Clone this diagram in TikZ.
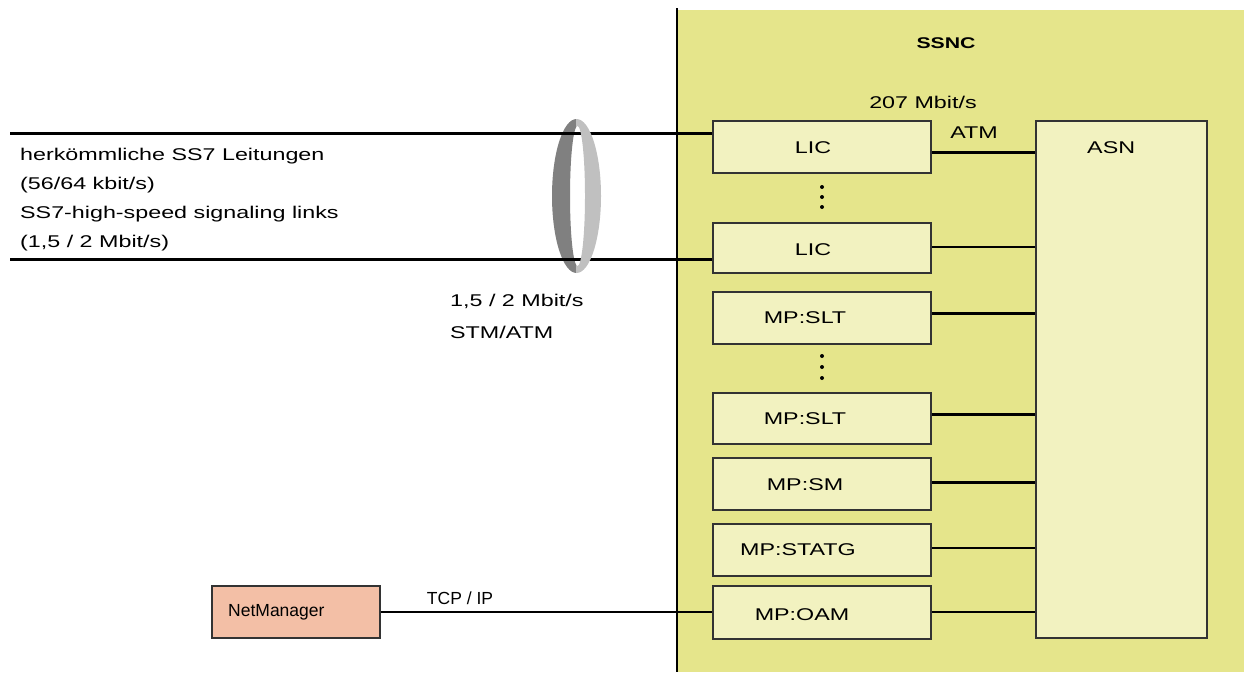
\documentclass[tikz,border=0pt]{standalone}
\usepackage{fontspec}
\setmainfont{Liberation Sans}
\newfontfamily\wf[FakeStretch=1.37]{Liberation Sans}
\usetikzlibrary{calc}
\definecolor{panel}{HTML}{E5E58B}
\definecolor{boxfill}{HTML}{F2F2C0}
\definecolor{nmfill}{HTML}{F3BFA6}
\definecolor{ringdark}{HTML}{808080}
\definecolor{ringlight}{HTML}{C0C0C0}
\definecolor{edgec}{HTML}{333333}
\begin{document}
\begin{tikzpicture}[x=1pt,y=-1pt,
  box/.style={draw=edgec, line width=1.5pt, fill=boxfill, minimum width=218pt, minimum height=52pt, inner sep=0pt},
  lbl/.style={font=\wf\fontsize{17}{20}\selectfont, inner sep=0pt},
  nlbl/.style={font=\fontsize{17.5}{20}\selectfont, inner sep=0pt},
  thickline/.style={line width=3pt},
  thinline/.style={line width=1.5pt}]
\useasboundingbox (0,0) rectangle (1244,672);
% panel
\fill[panel] (677,10) rectangle (1244,672);
\draw[line width=1.5pt] (677,8) -- (677,672);
% ring, dark part
\begin{scope}
\clip (540,100) rectangle (576,290);
\fill[ringdark, even odd rule] (576.5,196) ellipse [x radius=24.5, y radius=77] (577.5,196) ellipse [x radius=7.5, y radius=70];
\end{scope}
% boxes
\node[box] (lic1) at (822,147) {};
\node[box, minimum height=50pt] (lic2) at (822,248) {};
\node[box] (slt1) at (822,318) {};
\node[box, minimum height=51pt] (slt2) at (822,418.5) {};
\node[box] (sm) at (822,484) {};
\node[box] (statg) at (822,550) {};
\node[box, minimum height=53pt] (oam) at (822,612.5) {};
\node[box, minimum width=171pt, minimum height=517pt] (asn) at (1121.5,379.5) {};
\node[draw=edgec, line width=1.5pt, fill=nmfill, minimum width=168pt, minimum height=52pt, inner sep=0pt] (nm) at (296,612) {};
% input lines
\coordinate (in1) at (10,133);
\coordinate (in2) at (10,259);
\draw[thickline] (in1) -- (in1 -| lic1.west);
\draw[thickline] (in2) -- (in2 -| lic2.west);
% ring, light part
\begin{scope}
\clip (576,100) rectangle (610,290);
\fill[ringlight, even odd rule] (576.5,196) ellipse [x radius=24.5, y radius=77] (577.5,196) ellipse [x radius=7.5, y radius=70];
\end{scope}
% connectors to ASN
\coordinate (c1) at ([yshift=-5pt]lic1.east);
\coordinate (c2) at ([yshift=1pt]lic2.east);
\coordinate (c3) at ([yshift=5pt]slt1.east);
\coordinate (c4) at ([yshift=4.5pt]slt2.east);
\coordinate (c5) at ([yshift=2pt]sm.east);
\coordinate (c6) at ([yshift=2pt]statg.east);
\coordinate (c7) at ([yshift=0.5pt]oam.east);
\draw[thickline] (c1) -- (c1 -| asn.west);
\draw[thinline] (c2) -- (c2 -| asn.west);
\draw[thickline] (c3) -- (c3 -| asn.west);
\draw[thickline] (c4) -- (c4 -| asn.west);
\draw[thickline] (c5) -- (c5 -| asn.west);
\draw[thinline] (c6) -- (c6 -| asn.west);
\draw[thinline] (c7) -- (c7 -| asn.west);
\draw[thinline] (nm.east) -- (nm.east -| oam.west);
% dots
\foreach \yy in {187,197,207,356,367,378} \fill (822,\yy) circle (2);
% labels
\node[lbl, font=\wf\bfseries\fontsize{15.5}{18}\selectfont] (ssnc) at (946,43) {SSNC};
\node[lbl] (rate) at (923,102) {207 Mbit/s};
\node[lbl] (atm) at (974,133) {ATM};
\node[lbl, anchor=west] (asnl) at (1087,148) {ASN};
\node[lbl] (lic1l) at (813,148) {LIC};
\node[lbl] (lic2l) at (813,250) {LIC};
\node[lbl] (slt1l) at (805,318) {MP:SLT};
\node[lbl] (slt2l) at (805,419) {MP:SLT};
\node[lbl] (sml) at (805,485) {MP:SM};
\node[lbl] (statgl) at (798,550) {MP:STATG};
\node[lbl] (oaml) at (802,615) {MP:OAM};
\node[lbl, anchor=base west] (t1) at (20,160) {herkömmliche SS7 Leitungen};
\node[lbl, anchor=base west] (t2) at (20,189) {(56/64 kbit/s)};
\node[lbl, anchor=base west] (t3) at (20,218) {SS7-high-speed signaling links};
\node[lbl, anchor=base west] (t4) at (20,247) {(1,5 / 2 Mbit/s)};
\node[lbl, anchor=west] (r1) at (450,301) {1,5 / 2 Mbit/s};
\node[lbl, anchor=west] (r2) at (450,332) {STM/ATM};
\node[nlbl] (tcp) at (460,598) {TCP / IP};
\node[nlbl, anchor=west] (nml) at (228,612) {NetManager};
\end{tikzpicture}
\end{document}
